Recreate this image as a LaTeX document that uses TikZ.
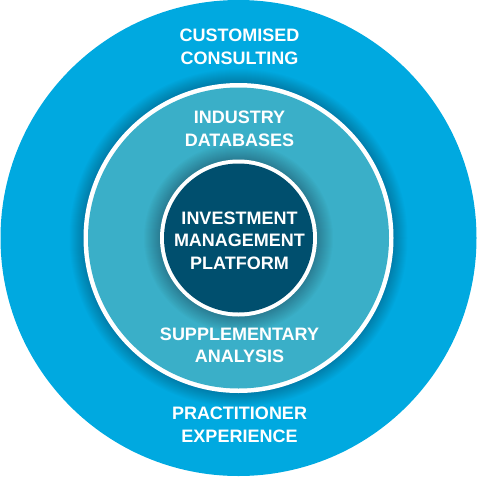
\documentclass[tikz,border=0pt]{standalone}
\usepackage{fontspec}
\setmainfont{Liberation Sans}
\definecolor{outerblue}{HTML}{00A9E0}
\definecolor{midblue}{HTML}{3AAFC8}
\definecolor{innerblue}{HTML}{004F6E}
\begin{document}
\begin{tikzpicture}[x=1pt,y=-1pt,
  ring/.style={circle, inner sep=0pt, outer sep=0pt, draw=none},
  lbl/.style={text=white, font=\fontsize{18}{22.6}\selectfont\bfseries, align=center, inner sep=0pt}]
\useasboundingbox (0,0) rectangle (477,477);
\coordinate (c) at (238.5,238);
\node[ring, fill=outerblue, minimum size=476pt] (outer) at (c) {};
\foreach \i in {1,...,14} \fill[black, opacity=0.015] (c) circle (155+\i);
\node[ring, fill=white, minimum size=310pt] (midring) at (c) {};
\node[ring, fill=midblue, minimum size=301pt] (middle) at (c) {};
\foreach \i in {1,...,16} \fill[black, opacity=0.016] (c) circle (78.5+\i);
\node[ring, fill=white, minimum size=157pt] (innerring) at (c) {};
\node[ring, fill=innerblue, minimum size=149pt] (inner) at (c) {};
\node[lbl] (consult) at (239.5,47) {CUSTOMISED\\CONSULTING};
\node[lbl] (data) at (239.5,129) {INDUSTRY\\DATABASES};
\node[lbl] (platform) at (239.5,240.5) {INVESTMENT\\MANAGEMENT\\PLATFORM};
\node[lbl] (analysis) at (239.5,345.2) {SUPPLEMENTARY\\ANALYSIS};
\node[lbl] (experience) at (239.5,424.5) {PRACTITIONER\\EXPERIENCE};
\end{tikzpicture}
\end{document}
